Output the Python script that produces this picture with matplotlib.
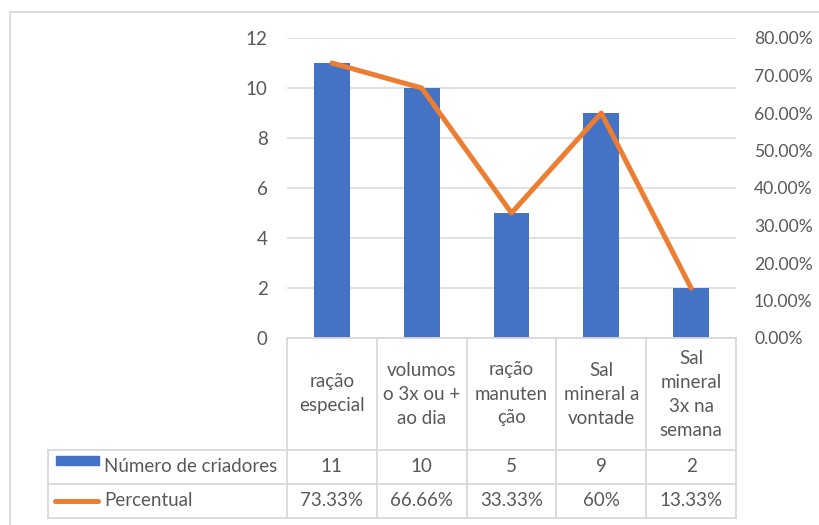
import numpy as np
import matplotlib
matplotlib.use("Agg")
import matplotlib.pyplot as plt
from matplotlib.transforms import blended_transform_factory
from matplotlib.lines import Line2D
from matplotlib.patches import Rectangle

# data
categories = ["ração\nespecial", "volumos\no 3x ou +\nao dia", "ração\nmanuten\nção",
              "Sal\nmineral a\nvontade", "Sal\nmineral\n3x na\nsemana"]
criadores = [11, 10, 5, 9, 2]
percentual = [0.7333, 0.6666, 0.3333, 0.60, 0.1333]
percentual_txt = ["73.33%", "66.66%", "33.33%", "60%", "13.33%"]
series_names = ["Número de criadores", "Percentual"]

W, H = 819, 525
BLUE = "#4472C4"
ORANGE = "#ED7D31"
GRID = "#D9D9D9"
TXT = "#595959"
FONT = "Lato"
FS = 13.5

plt.rcParams['font.family'] = [FONT, 'DejaVu Sans']


def fx(px):
    return px / W


def fy(py):
    return 1 - py / H


fig = plt.figure(figsize=(W / 100, H / 100), dpi=100)
fig.patch.set_facecolor("white")

# chart border (only left and top visible)
fig.add_artist(Line2D([fx(10), fx(10), fx(830)], [fy(540), fy(12), fy(12)],
                      transform=fig.transFigure, color=GRID, lw=1.3))

x0, x1, ytop, ybot = 287, 736, 38, 338
ax = fig.add_axes([fx(x0), fy(ybot), (x1 - x0) / W, (ybot - ytop) / H])
x = np.arange(len(categories))
ax.bar(x, criadores, width=0.4, color=BLUE, zorder=2)
ax.set_xlim(-0.5, len(categories) - 0.5)
ax.set_ylim(0, 12)
ax.set_yticks(range(0, 13, 2))
ax.set_xticks([])
ax.grid(axis="y", color=GRID, lw=1.1, zorder=0)
ax.set_axisbelow(True)
for s in ax.spines.values():
    s.set_visible(False)
ax.tick_params(axis="y", length=0, pad=14, labelsize=FS, labelcolor=TXT)

ax2 = ax.twinx()
ax2.plot(x, percentual, color=ORANGE, lw=3.6, solid_capstyle="round",
         solid_joinstyle="round", zorder=3)
ax2.set_ylim(0, 0.8)
ax2.set_yticks(np.arange(0, 0.81, 0.1))
ax2.set_yticklabels([f"{v * 100:.2f}%" for v in np.arange(0, 0.81, 0.1)])
for s in ax2.spines.values():
    s.set_visible(False)
ax2.tick_params(axis="y", length=0, pad=13, labelsize=12.6, labelcolor=TXT)

# data table below the plot
tr = blended_transform_factory(ax.transData, fig.transFigure)
row_hdr, row1, row2, row_end = 338, 450, 484, 518
left_px = 48
n = len(categories)
edges = np.arange(n + 1) - 0.5
for e in edges:
    fig.add_artist(Line2D([e, e], [fy(row_hdr), fy(row_end)], transform=tr, color=GRID, lw=1.3))
fig.add_artist(Line2D([edges[0], edges[-1]], [fy(row_hdr), fy(row_hdr)], transform=tr,
                      color=GRID, lw=1.3))
for ry in (row1, row2, row_end):
    fig.add_artist(Line2D([fx(left_px), fx(x1)], [fy(ry), fy(ry)], transform=fig.transFigure,
                          color=GRID, lw=1.3))
fig.add_artist(Line2D([fx(left_px), fx(left_px)], [fy(row1), fy(row_end)],
                      transform=fig.transFigure, color=GRID, lw=1.3))

for i, c in enumerate(categories):
    fig.text(x[i], fy((row_hdr + row1) / 2), c, transform=tr, ha="center", va="center",
             fontsize=FS, color=TXT, linespacing=1.5)
    fig.text(x[i], fy((row1 + row2) / 2), str(criadores[i]), transform=tr, ha="center",
             va="center", fontsize=FS, color=TXT)
    fig.text(x[i], fy((row2 + row_end) / 2), percentual_txt[i], transform=tr, ha="center",
             va="center", fontsize=FS, color=TXT)

# legend keys inside table
fig.add_artist(Rectangle((fx(56), fy(465)), (99 - 56) / W, 9 / H, transform=fig.transFigure,
                         color=BLUE))
fig.add_artist(Line2D([fx(55), fx(98)], [fy(501), fy(501)], transform=fig.transFigure,
                      color=ORANGE, lw=3.6, solid_capstyle="round"))
fig.text(fx(104), fy((row1 + row2) / 2), series_names[0], ha="left", va="center",
         fontsize=FS, color=TXT)
fig.text(fx(104), fy((row2 + row_end) / 2), series_names[1], ha="left", va="center",
         fontsize=FS, color=TXT)

fig.savefig("out.png", dpi=100, facecolor="white")
